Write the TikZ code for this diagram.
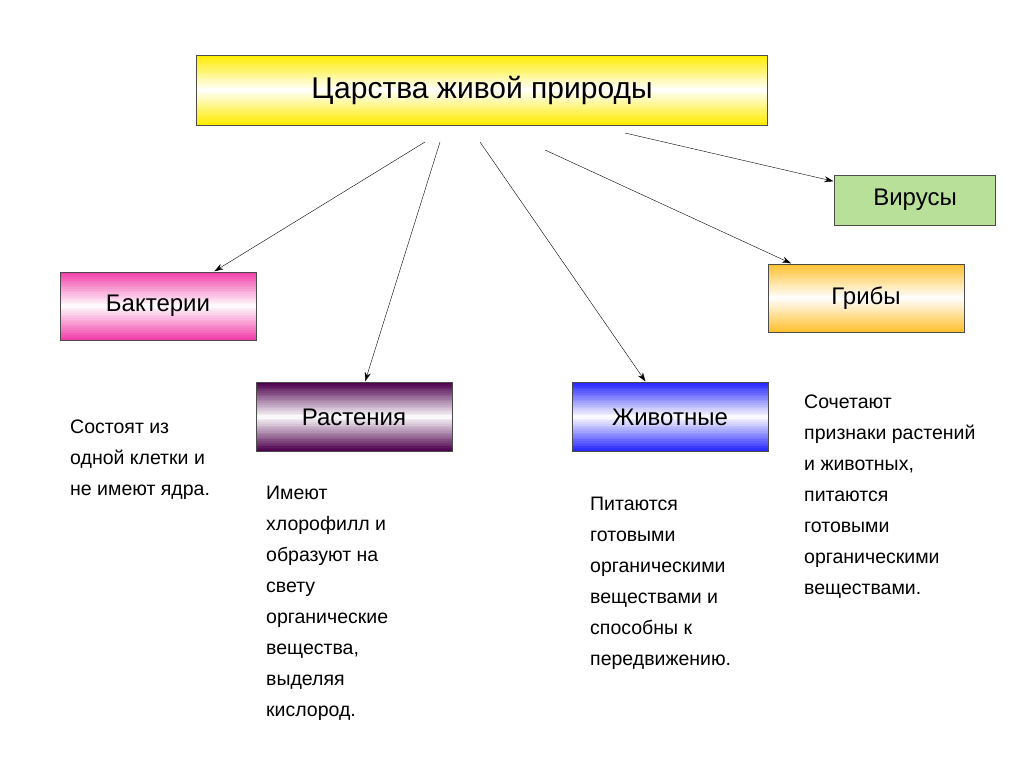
\documentclass[tikz,border=0pt]{standalone}
\usepackage{fontspec}
\setmainfont{Liberation Sans}
\usetikzlibrary{arrows.meta,calc}
\colorlet{kyellow}{yellow!95!orange}
\colorlet{kmagenta}{magenta!75!white}
\colorlet{kviolet}{violet!60!black}
\colorlet{kblue}{blue!85!white}
\colorlet{korange}{orange!60!yellow!80!white}
\colorlet{kgreen}{green!40!olive!40!white}
\tikzset{
    %Define standard arrow tip
    >={Stealth[length=9pt,width=6pt]},
    %Define style for boxes
    kingdom/.style={
           rectangle,
           draw=black!70, thin,
           font=\fontsize{24}{28}\selectfont,
           text centered,
           inner sep=0pt,
           },
    % gradient: colour at top and bottom, white in the middle
    grad/.style={
           path picture={
             \foreach \i in {0,...,39}{
               \pgfmathsetmacro\m{100*abs(\i-19.5)/19.5}
               \fill[#1!\m!white]
                 ($(path picture bounding box.north west)!\i/40!(path picture bounding box.south west)$)
                 rectangle
                 ($(path picture bounding box.north east)!\i/40+0.03!(path picture bounding box.south east)$);
             }
           },
           },
    % Define style for notes
    note/.style={
           align=left,
           anchor=north west,
           font=\fontsize{19.5}{31}\selectfont,
           inner sep=0pt,
           },
    pil/.style={
           ->,
           thin,
           shorten >=1pt,},
}
\begin{document}
\begin{tikzpicture}[x=1pt,y=-1pt]
\useasboundingbox[fill=white] (0,0) rectangle (1024,768);
\node[kingdom, minimum width=571pt, minimum height=70pt, grad=kyellow, font=\fontsize{30}{34}\selectfont](K) at (482,90){Царства живой природы};
\node[kingdom, minimum width=196pt, minimum height=68pt, grad=kmagenta](B) at (158,306){Бактерии};
\node[kingdom, minimum width=196pt, minimum height=69pt, grad=kviolet](R) at (354,417){Растения};
\node[kingdom, minimum width=196pt, minimum height=69pt, grad=kblue](Z) at (670,417){Животные};
\node[kingdom, minimum width=196pt, minimum height=68pt, grad=korange](G) at (866,298){Грибы};
\node[kingdom, minimum width=161pt, minimum height=50pt, fill=kgreen](V) at (915,200){Вирусы};
\coordinate (s1) at (425,142);
\coordinate (s2) at (440,142);
\coordinate (s3) at (480,142);
\coordinate (s4) at (545,150);
\coordinate (s5) at (625,133);
\draw[pil] (s1) -- (B);
\draw[pil] (s2) -- (R);
\draw[pil] (s3) -- (Z);
\draw[pil] (s4) -- (G);
\draw[pil] (s5) -- (V);
\node[note](nB) at (70,420){Состоят из\\одной клетки и\\не имеют ядра.};
\node[note](nR) at (266,486){Имеют\\хлорофилл и\\образуют на\\свету\\органические\\вещества,\\выделяя\\кислород.};
\node[note](nZ) at (590,497){Питаются\\готовыми\\органическими\\веществами и\\способны к\\передвижению.};
\node[note](nG) at (804,395){Сочетают\\признаки растений\\и животных,\\питаются\\готовыми\\органическими\\веществами.};
\end{tikzpicture}
\end{document}
